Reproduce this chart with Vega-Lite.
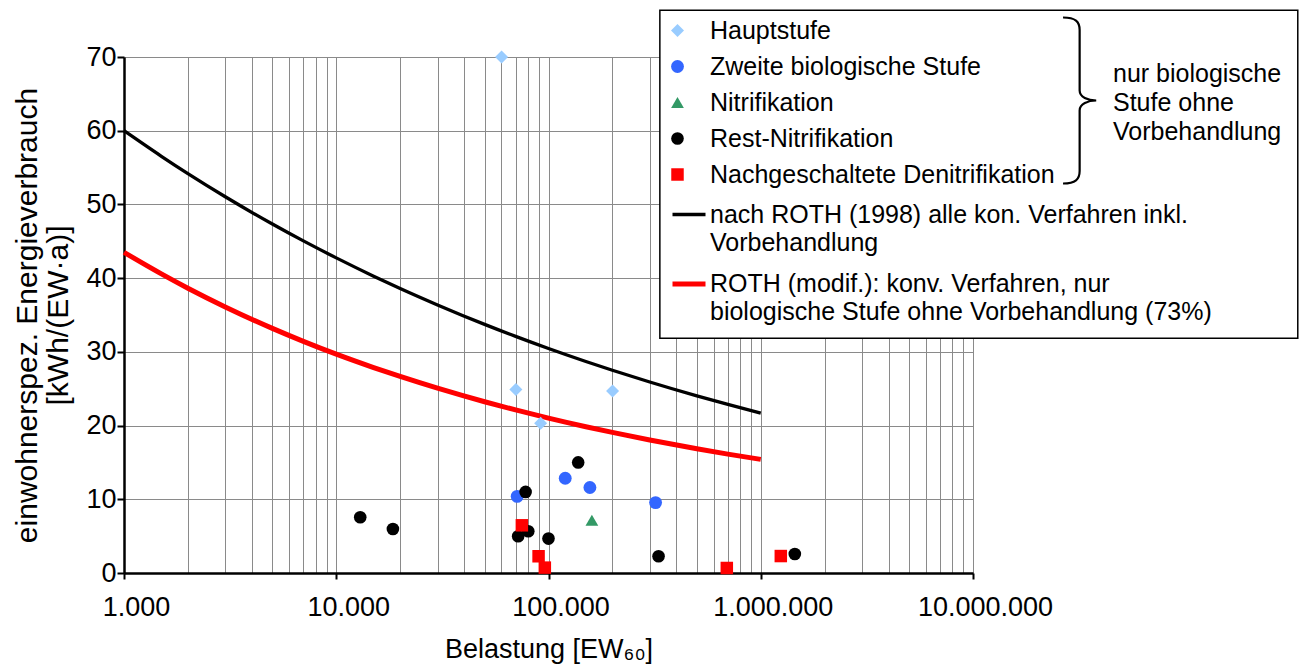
{
  "$schema": "https://vega.github.io/schema/vega-lite/v6.json",
  "width": 849,
  "height": 516,
  "autosize": {"type": "none"},
  "padding": {"left": 124, "top": 57, "right": 329, "bottom": 93},
  "background": "white",
  "config": {
    "view": {"stroke": null},
    "font": "Liberation Sans",
    "axis": {"labelFont": "Liberation Sans", "titleFont": "Liberation Sans", "labelColor": "black", "titleColor": "black", "titleFontWeight": "normal"},
    "legend": {"labelFont": "Liberation Sans", "titleFont": "Liberation Sans", "labelColor": "black", "titleColor": "black"}
  },
  "datasets": {
    "pts": [
      {"x": 60100, "y": 70, "series": "Hauptstufe"},
      {"x": 70200, "y": 24.9, "series": "Hauptstufe"},
      {"x": 91800, "y": 20.3, "series": "Hauptstufe"},
      {"x": 200400, "y": 24.7, "series": "Hauptstufe"},
      {"x": 71200, "y": 10.4, "series": "Zweite biologische Stufe"},
      {"x": 119900, "y": 12.85, "series": "Zweite biologische Stufe"},
      {"x": 156700, "y": 11.6, "series": "Zweite biologische Stufe"},
      {"x": 319500, "y": 9.55, "series": "Zweite biologische Stufe"},
      {"x": 160100, "y": 7.15, "series": "Nitrifikation"},
      {"x": 12970, "y": 7.56, "series": "Rest-Nitrifikation"},
      {"x": 18490, "y": 5.97, "series": "Rest-Nitrifikation"},
      {"x": 78000, "y": 11.0, "series": "Rest-Nitrifikation"},
      {"x": 138000, "y": 15.0, "series": "Rest-Nitrifikation"},
      {"x": 80300, "y": 5.66, "series": "Rest-Nitrifikation"},
      {"x": 71950, "y": 4.98, "series": "Rest-Nitrifikation"},
      {"x": 100000, "y": 4.67, "series": "Rest-Nitrifikation"},
      {"x": 330000, "y": 2.27, "series": "Rest-Nitrifikation"},
      {"x": 1447000, "y": 2.58, "series": "Rest-Nitrifikation"},
      {"x": 74900, "y": 6.47, "series": "Nachgeschaltete Denitrifikation"},
      {"x": 89800, "y": 2.27, "series": "Nachgeschaltete Denitrifikation"},
      {"x": 96100, "y": 0.73, "series": "Nachgeschaltete Denitrifikation"},
      {"x": 692000, "y": 0.68, "series": "Nachgeschaltete Denitrifikation"},
      {"x": 1243000, "y": 2.3, "series": "Nachgeschaltete Denitrifikation"}
    ],
    "curves": [
      {"x": 1000, "y": 60.0, "curve": "ROTH 1998"},
      {"x": 1500, "y": 56.53, "curve": "ROTH 1998"},
      {"x": 2000, "y": 54.18, "curve": "ROTH 1998"},
      {"x": 3000, "y": 51.04, "curve": "ROTH 1998"},
      {"x": 5000, "y": 47.34, "curve": "ROTH 1998"},
      {"x": 7000, "y": 45.05, "curve": "ROTH 1998"},
      {"x": 10000, "y": 42.75, "curve": "ROTH 1998"},
      {"x": 15000, "y": 40.27, "curve": "ROTH 1998"},
      {"x": 20000, "y": 38.6, "curve": "ROTH 1998"},
      {"x": 30000, "y": 36.37, "curve": "ROTH 1998"},
      {"x": 50000, "y": 33.73, "curve": "ROTH 1998"},
      {"x": 70000, "y": 32.1, "curve": "ROTH 1998"},
      {"x": 100000, "y": 30.46, "curve": "ROTH 1998"},
      {"x": 150000, "y": 28.7, "curve": "ROTH 1998"},
      {"x": 200000, "y": 27.51, "curve": "ROTH 1998"},
      {"x": 300000, "y": 25.91, "curve": "ROTH 1998"},
      {"x": 500000, "y": 24.03, "curve": "ROTH 1998"},
      {"x": 700000, "y": 22.87, "curve": "ROTH 1998"},
      {"x": 1000000, "y": 21.7, "curve": "ROTH 1998"},
      {"x": 1000, "y": 43.5, "curve": "ROTH modif."},
      {"x": 1500, "y": 40.58, "curve": "ROTH modif."},
      {"x": 2000, "y": 38.64, "curve": "ROTH modif."},
      {"x": 3000, "y": 36.1, "curve": "ROTH modif."},
      {"x": 5000, "y": 33.19, "curve": "ROTH modif."},
      {"x": 7000, "y": 31.43, "curve": "ROTH modif."},
      {"x": 10000, "y": 29.69, "curve": "ROTH modif."},
      {"x": 15000, "y": 27.87, "curve": "ROTH modif."},
      {"x": 20000, "y": 26.66, "curve": "ROTH modif."},
      {"x": 30000, "y": 25.07, "curve": "ROTH modif."},
      {"x": 50000, "y": 23.23, "curve": "ROTH modif."},
      {"x": 70000, "y": 22.12, "curve": "ROTH modif."},
      {"x": 100000, "y": 21.01, "curve": "ROTH modif."},
      {"x": 150000, "y": 19.84, "curve": "ROTH modif."},
      {"x": 200000, "y": 19.07, "curve": "ROTH modif."},
      {"x": 300000, "y": 18.04, "curve": "ROTH modif."},
      {"x": 500000, "y": 16.85, "curve": "ROTH modif."},
      {"x": 700000, "y": 16.13, "curve": "ROTH modif."},
      {"x": 1000000, "y": 15.41, "curve": "ROTH modif."}
    ]
  },
  "layer": [
    {
      "data": {"name": "curves"},
      "mark": {"type": "line", "interpolate": "monotone"},
      "encoding": {
        "x": {
          "field": "x", "type": "quantitative",
          "scale": {"type": "log", "domain": [1000, 10000000], "nice": false},
          "axis": {
            "title": "Belastung [EW₆₀]",
            "titleFontSize": 27,
            "titlePadding": 16,
            "values": [1000, 2000, 3000, 4000, 5000, 6000, 7000, 8000, 9000, 10000, 20000, 30000, 40000, 50000, 60000, 70000, 80000, 90000, 100000, 200000, 300000, 400000, 500000, 600000, 700000, 800000, 900000, 1000000, 2000000, 3000000, 4000000, 5000000, 6000000, 7000000, 8000000, 9000000, 10000000],
            "labelExpr": "datum.value == 1000 ? '1.000' : datum.value == 10000 ? '10.000' : datum.value == 100000 ? '100.000' : datum.value == 1000000 ? '1.000.000' : datum.value == 10000000 ? '10.000.000' : ''",
            "labelFontSize": 27,
            "labelFlush": false,
            "labelOverlap": false,
            "labelPadding": 15,
            "labelOffset": 12,
            "grid": true,
            "gridColor": "#8a8a8a",
            "gridWidth": 1,
            "domainColor": "black",
            "domainWidth": 2.5,
            "tickColor": "black",
            "tickWidth": 2,
            "tickSize": 6,
            "tickOpacity": {"condition": {"test": "indexof([1000, 10000, 100000, 1000000, 10000000], datum.value) >= 0", "value": 1}, "value": 0}
          }
        },
        "y": {
          "field": "y", "type": "quantitative",
          "scale": {"domain": [0, 70], "nice": false},
          "axis": {
            "title": ["einwohnerspez. Energieverbrauch", "[kWh/(EW·a)]"],
            "titleFontSize": 30,
            "titleLineHeight": 31,
            "titlePadding": 12,
            "values": [0, 10, 20, 30, 40, 50, 60, 70],
            "labelFontSize": 27,
            "labelFlush": false,
            "labelPadding": 1,
            "grid": true,
            "gridColor": "#8a8a8a",
            "gridWidth": 1,
            "domainColor": "black",
            "domainWidth": 2.5,
            "tickColor": "black",
            "tickWidth": 2,
            "tickSize": 7
          }
        },
        "color": {
          "field": "curve", "type": "nominal",
          "scale": {"domain": ["ROTH 1998", "ROTH modif."], "range": ["#000000", "#ff0000"]},
          "legend": {
            "orient": "none",
            "legendX": 546,
            "legendY": 139,
            "title": null,
            "padding": 0,
            "symbolType": "stroke",
            "symbolSize": 1089,
            "symbolStrokeWidth": 4,
            "labelFontSize": 25,
            "labelLimit": 0,
            "labelOffset": 2,
            "rowPadding": 9,
            "labelExpr": "datum.value == 'ROTH 1998' ? ['nach ROTH (1998) alle kon. Verfahren inkl.', 'Vorbehandlung'] : ['ROTH (modif.): konv. Verfahren, nur', 'biologische Stufe ohne Vorbehandlung (73%)']",
            "encode": {"labels": {"update": {"lineHeight": {"value": 28}}}, "symbols": {"update": {"strokeWidth": {"value": 4}}}}
          }
        },
        "strokeWidth": {
          "field": "curve", "type": "nominal",
          "scale": {"domain": ["ROTH 1998", "ROTH modif."], "range": [3.3, 5]},
          "legend": null
        }
      }
    },
    {
      "data": {"name": "pts"},
      "mark": {"type": "point", "filled": true, "opacity": 1},
      "encoding": {
        "x": {"field": "x", "type": "quantitative"},
        "y": {"field": "y", "type": "quantitative"},
        "color": {
          "field": "series", "type": "nominal",
          "scale": {"domain": ["Hauptstufe", "Zweite biologische Stufe", "Nitrifikation", "Rest-Nitrifikation", "Nachgeschaltete Denitrifikation"], "range": ["#99ccff", "#3366ff", "#339966", "#000000", "#ff0000"]},
          "legend": {
            "orient": "none",
            "legendX": 541,
            "legendY": -39,
            "padding": 0,
            "title": ["nur biologische", "Stufe ohne", "Vorbehandlung"],
            "titleOrient": "right",
            "titleAnchor": "middle",
            "titleAlign": "left",
            "titleFontSize": 25,
            "titleFontWeight": "normal",
            "titleLineHeight": 29,
            "titlePadding": 58,
            "titleLimit": 0,
            "symbolSize": 90,
            "labelFontSize": 25,
            "labelLimit": 0,
            "labelOffset": 20,
            "rowPadding": 10
          }
        },
        "shape": {
          "field": "series", "type": "nominal",
          "scale": {"domain": ["Hauptstufe", "Zweite biologische Stufe", "Nitrifikation", "Rest-Nitrifikation", "Nachgeschaltete Denitrifikation"], "range": ["diamond", "circle", "triangle-up", "circle", "square"]},
          "legend": {
            "orient": "none",
            "legendX": 541,
            "legendY": -39,
            "padding": 0,
            "title": ["nur biologische", "Stufe ohne", "Vorbehandlung"],
            "titleOrient": "right",
            "titleAnchor": "middle",
            "titleAlign": "left",
            "titleFontSize": 25,
            "titleFontWeight": "normal",
            "titleLineHeight": 29,
            "titlePadding": 58,
            "titleLimit": 0,
            "symbolSize": 90,
            "labelFontSize": 25,
            "labelLimit": 0,
            "labelOffset": 20,
            "rowPadding": 10
          }
        },
        "size": {
          "field": "series", "type": "nominal",
          "scale": {"domain": ["Hauptstufe", "Zweite biologische Stufe", "Nitrifikation", "Rest-Nitrifikation", "Nachgeschaltete Denitrifikation"], "range": [169, 156, 169, 81, 144]},
          "legend": null
        }
      }
    },
    {
      "data": {"values": [{}]},
      "mark": {"type": "rect", "fill": "white", "stroke": "black", "strokeWidth": 1.5},
      "encoding": {
        "x": {"datum": 334700, "type": "quantitative"},
        "x2": {"datum": 339000000},
        "y": {"datum": 76.35, "type": "quantitative"},
        "y2": {"datum": 31.85}
      }
    },
    {
      "data": {"values": [{}]},
      "mark": {"type": "point", "shape": "M-0.2,-1C-0.05,-1,0,-0.95,0,-0.85L0,-0.12C0,-0.04,0.1,0,0.2,0C0.1,0,0,0.04,0,0.12L0,0.85C0,0.95,-0.05,1,-0.2,1", "filled": false, "stroke": "black", "strokeWidth": 2.2, "size": 27556, "opacity": 1},
      "encoding": {
        "x": {"datum": 31800000, "type": "quantitative"},
        "y": {"datum": 64.1, "type": "quantitative"}
      }
    }
  ],
  "resolve": {"scale": {"color": "independent", "shape": "independent", "size": "independent", "strokeWidth": "independent"}}
}
